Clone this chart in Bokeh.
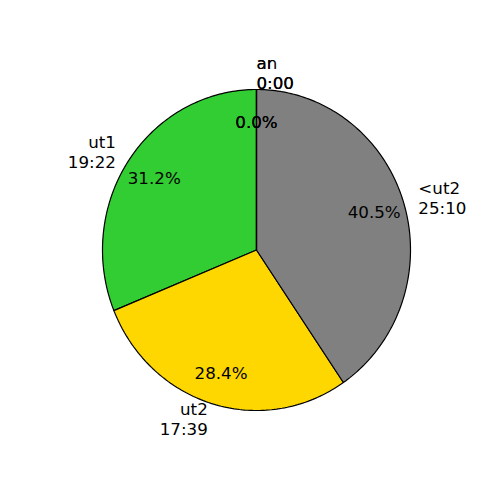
import numpy as np
from bokeh.plotting import figure
from bokeh.models import Range1d
from bokeh.core.properties import value
from bokeh.embed import file_html
from bokeh.resources import INLINE

# Data (counter-clockwise from 12 o'clock)
labels = ["ut1", "ut2", "<ut2", "ar", "an"]
durations = ["19:22", "17:39", "25:10", "0:00", "0:00"]
shares = [31.2, 28.4, 40.5, 0.0, 0.0]
colors = ["#32CD32", "#FFD700", "#808080", "#1f77b4", "#ff7f0e"]

# layout
W = H = 484
cx_px, cy_px = 256, 249.5
rx_px, ry_px = 154.0, 160.5

p = figure(width=W, height=H, output_backend="svg", toolbar_location=None,
           x_range=Range1d(-cx_px / rx_px, (W - cx_px) / rx_px),
           y_range=Range1d(-(H - cy_px) / ry_px, cy_px / ry_px),
           min_border=0, outline_line_color=None)
p.axis.visible = False
p.grid.visible = False
p.background_fill_color = "white"
p.border_fill_color = "white"

vals = np.array(shares, dtype=float)
frac = vals / vals.sum()
start = np.pi / 2 + 2 * np.pi * np.concatenate([[0], np.cumsum(frac)[:-1]])
end = start + 2 * np.pi * frac
mid = (start + end) / 2

xs, ys = [], []
for s, e in zip(start, end):
    n = max(2, int(np.ceil((e - s) / (np.pi / 180))) + 1)
    t = np.linspace(s, e, n)
    xs.append(np.concatenate([[0.0], np.cos(t)]).tolist())
    ys.append(np.concatenate([[0.0], np.sin(t)]).tolist())

p.patches(xs=xs, ys=ys, fill_color=colors, line_color="black", line_width=1.2)

font = value("DejaVu Sans")
fs = "16.7px"
lx = 1.1 * np.cos(mid)
ly = 1.1 * np.sin(mid)
for i in range(len(labels)):
    align = "left" if lx[i] >= -1e-9 else "right"
    p.text(x=[lx[i]], y=[ly[i]], text=[labels[i] + "\n" + durations[i]],
           text_font=font, text_font_size=fs, text_align=align,
           text_baseline="middle", text_color="black", text_line_height=1.0)

px = 0.8 * np.cos(mid)
py = 0.8 * np.sin(mid)
pct = [f"{100 * f:.1f}%" for f in frac]
p.text(x=px, y=py, text=pct, text_font=font, text_font_size=fs,
       text_align="center", text_baseline="middle", text_color="black")

open("out.html", "w").write(file_html(p, INLINE))
